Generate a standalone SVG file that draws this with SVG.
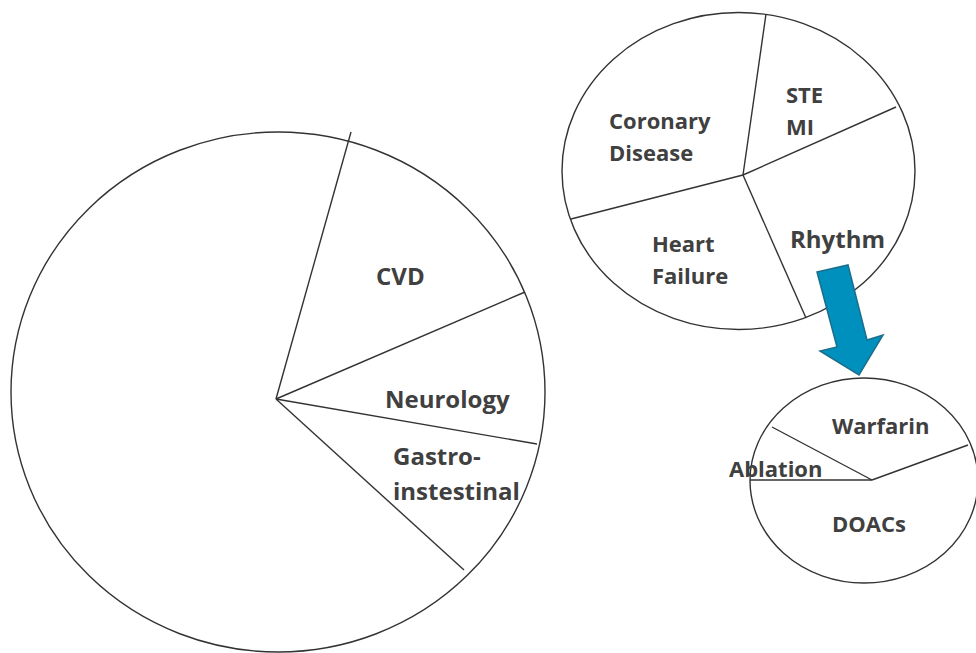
<svg xmlns="http://www.w3.org/2000/svg" width="976" height="653" viewBox="0 0 976 653">
<style>
.pie{fill:#fff;stroke:#333;stroke-width:1.4}
.seg{stroke:#333;stroke-width:1.4;fill:none}
.t{font-family:"Open Sans","Liberation Sans",sans-serif;font-weight:bold;fill:#404040}
</style>
<rect width="976" height="653" fill="#fff"/>
<g id="pie-main">
<ellipse class="pie" cx="278" cy="392" rx="267" ry="260"/>
<text class="t" x="376" y="285" font-size="24">CVD</text>
<text class="t" x="385" y="408" font-size="24">Neurology</text>
<text class="t" x="393" y="465" font-size="24">Gastro-</text>
<text class="t" x="393" y="500" font-size="24">instestinal</text>
</g>
<g id="pie-cardio">
<ellipse class="pie" cx="738.5" cy="171" rx="176.5" ry="158.5"/>
<text class="t" x="609" y="129" font-size="22">Coronary</text>
<text class="t" x="609" y="161" font-size="22">Disease</text>
<text class="t" x="786" y="103" font-size="22">STE</text>
<text class="t" x="786" y="135" font-size="22">MI</text>
<text class="t" x="652" y="252" font-size="22">Heart</text>
<text class="t" x="652" y="284" font-size="22">Failure</text>
<text class="t" x="790" y="248" font-size="24">Rhythm</text>
</g>
<g id="pie-rhythm">
<ellipse class="pie" cx="864" cy="480.5" rx="114" ry="102.5"/>
<text class="t" x="832" y="434" font-size="22">Warfarin</text>
<text class="t" x="729" y="477" font-size="22">Ablation</text>
<text class="t" x="832" y="532" font-size="22">DOACs</text>
</g>
<g id="connectors">
<line class="seg" x1="276" y1="399" x2="351" y2="132"/>
<line class="seg" x1="276" y1="399" x2="525" y2="292"/>
<line class="seg" x1="276" y1="399" x2="537" y2="444"/>
<line class="seg" x1="276" y1="399" x2="464" y2="570"/>
<line class="seg" x1="743" y1="175" x2="766" y2="14"/>
<line class="seg" x1="743" y1="175" x2="896" y2="107"/>
<line class="seg" x1="743" y1="175" x2="571" y2="219"/>
<line class="seg" x1="743" y1="175" x2="806" y2="318"/>
<line class="seg" x1="872" y1="480" x2="772" y2="427"/>
<line class="seg" x1="872" y1="480" x2="750" y2="480"/>
<line class="seg" x1="872" y1="480" x2="968" y2="445"/>
<polygon points="817,272 848,265 867,340 883,335 859,375 820,351 837,347" fill="#0090BE" stroke="#1B6E8C" stroke-width="1.5" stroke-linejoin="miter"/>
</g>
</svg>
